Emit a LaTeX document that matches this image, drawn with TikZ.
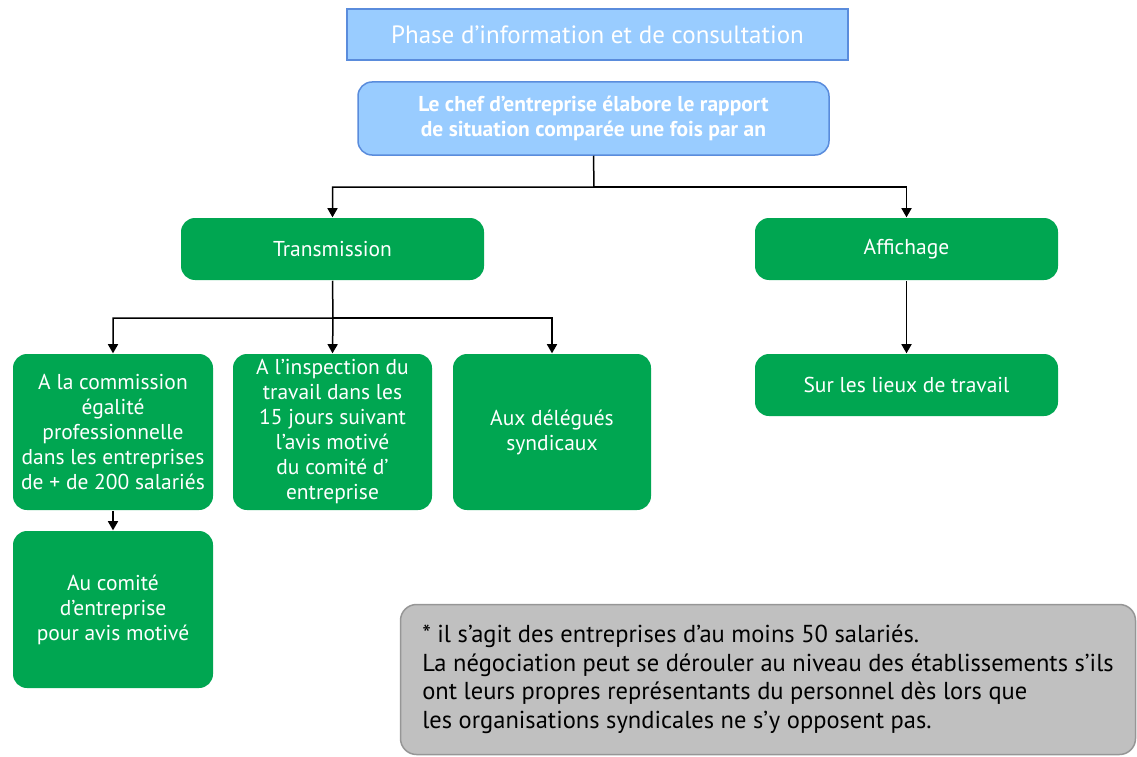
\documentclass[tikz,border=0pt]{standalone}
\usepackage{fontspec}
\setmainfont{PT Sans}
\usepackage{tikz}
\usetikzlibrary{arrows}
\definecolor{boxgreen}{RGB}{0,166,81}
\definecolor{lightblue}{RGB}{153,204,255}
\definecolor{blueline}{RGB}{90,140,220}
\definecolor{notegray}{RGB}{192,192,192}
\definecolor{notedraw}{RGB}{150,150,150}
\tikzstyle{arrow}=[->,>=triangle 60]
\tikzstyle{greenbox}=[rectangle, rounded corners=14pt, fill=boxgreen, text=white, align=center, font=\fontsize{21.5}{25}\selectfont]
\tikzstyle{bluebox}=[rectangle, fill=lightblue, draw=blueline, text=white, align=center]
\tikzset{every picture/.style={
    line width=1.5
  }
}

\begin{document}
\begin{tikzpicture}[x=1pt,y=-1pt]
            \useasboundingbox (0,0) rectangle (1137,757);
            \node[bluebox, minimum width=501pt, minimum height=51pt, font=\fontsize{25}{28}\selectfont] (phase) at (597.5,34.5) {Phase d'information et de consultation};
            \node[bluebox, rounded corners=14pt, minimum width=471pt, minimum height=73pt, font=\bfseries\fontsize{21.5}{25}\selectfont] (chef) at (593.5,118.5) {Le chef d'entreprise élabore le rapport\\de situation comparée une fois par an};
            \node[greenbox, minimum width=303pt, minimum height=62pt] (trans) at (332.5,249) {Transmission};
            \node[greenbox, minimum width=303pt, minimum height=62pt] (aff) at (906.5,249) {Affichage};
            \node[greenbox, minimum width=200pt, minimum height=156pt] (commission) at (113,432) {A la commission\\égalité\\professionnelle\\dans les entreprises\\de + de 200 salariés};
            \node[greenbox, minimum width=199pt, minimum height=156pt] (inspection) at (332.5,432) {A l'inspection du\\travail dans les\\15 jours suivant\\l'avis motivé\\du comité d'\\entreprise};
            \node[greenbox, minimum width=198pt, minimum height=156pt] (delegues) at (552,432) {Aux délégués\\syndicaux};
            \node[greenbox, minimum width=200pt, minimum height=157pt] (comite) at (113,609.5) {Au comité\\d'entreprise\\pour avis motivé};
            \node[greenbox, minimum width=303pt, minimum height=62pt] (lieux) at (906.5,385) {Sur les lieux de travail};
            \node[rectangle, rounded corners=16pt, fill=notegray, draw=notedraw, minimum width=735pt, minimum height=150pt, align=left, font=\fontsize{24.5}{28.5}\selectfont] (note) at (768,679.5) {* il s'agit des entreprises d'au moins 50 salariés.\\La négociation peut se dérouler au niveau des établissements s'ils\\ont leurs propres représentants du personnel dès lors que\\les organisations syndicales ne s'y opposent pas.};
            \coordinate (split1) at (594,187);
            \coordinate (split2) at (333,318);
            \draw[arrow] (chef.south) -- (split1) -| (trans.north);
            \draw[arrow] (split1) -| (aff.north);
            \draw[arrow] (trans.south) -- (split2) -| (commission.north);
            \draw[arrow] (split2) -- (inspection.north);
            \draw[arrow] (split2) -| (delegues.north);
            \draw[arrow] (commission.south) -- (comite.north);
            \draw[arrow] (aff.south) -- (lieux.north);
          \end{tikzpicture}
\end{document}
